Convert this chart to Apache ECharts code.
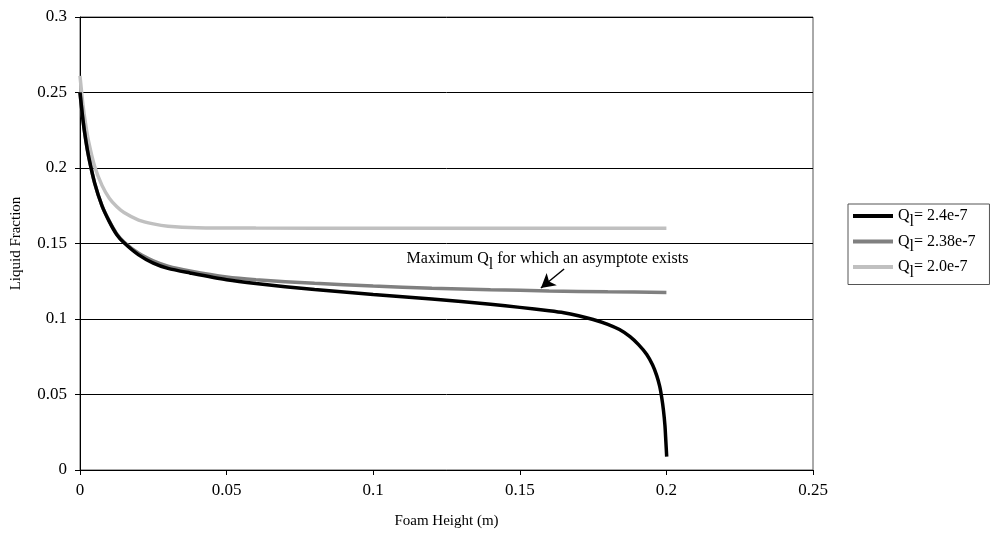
<!DOCTYPE html>
<html>
<head>
<meta charset="utf-8">
<script src="https://cdn.jsdelivr.net/npm/echarts@6/dist/echarts.min.js"></script>
<style>html,body{margin:0;padding:0;background:#fff}#c{width:991px;height:535px}</style>
</head>
<body>
<div id="c"></div>
<script>
var seriesNames = ['Q_l= 2.4e-7', 'Q_l= 2.38e-7', 'Q_l= 2.0e-7'];
var xTicks = [0, 0.05, 0.1, 0.15, 0.2, 0.25];
var yTicks = [0, 0.05, 0.1, 0.15, 0.2, 0.25, 0.3];

var x240 = [0, 0.001, 0.002, 0.003, 0.005, 0.0075, 0.01, 0.0125, 0.015, 0.02, 0.025, 0.03, 0.0375, 0.05, 0.06, 0.08, 0.1, 0.12, 0.14, 0.15, 0.16, 0.165, 0.17, 0.175, 0.18, 0.184, 0.1876, 0.1905, 0.1933, 0.1953, 0.1967, 0.1977, 0.1984, 0.199, 0.1995, 0.1998, 0.2001];
var y240 = [0.25, 0.232, 0.218, 0.207, 0.190, 0.175, 0.1645, 0.156, 0.1505, 0.1425, 0.137, 0.1335, 0.1305, 0.126, 0.1235, 0.1195, 0.1163, 0.1133, 0.1098, 0.1077, 0.1055, 0.1042, 0.1022, 0.0997, 0.0965, 0.0930, 0.0883, 0.0830, 0.0765, 0.0695, 0.0625, 0.0555, 0.0480, 0.0395, 0.0295, 0.0195, 0.0088];

var x238 = [0, 0.001, 0.002, 0.003, 0.005, 0.0075, 0.01, 0.0125, 0.015, 0.02, 0.025, 0.03, 0.0375, 0.05, 0.06, 0.08, 0.1, 0.12, 0.14, 0.16, 0.18, 0.2];
var y238 = [0.25, 0.232, 0.218, 0.207, 0.190, 0.175, 0.1648, 0.1565, 0.151, 0.1435, 0.1385, 0.135, 0.1318, 0.1278, 0.126, 0.1236, 0.1218, 0.1204, 0.1194, 0.1186, 0.118, 0.1176];

var x200 = [0, 0.001, 0.002, 0.003, 0.005, 0.0075, 0.01, 0.0125, 0.015, 0.02, 0.025, 0.03, 0.04, 0.06, 0.1, 0.15, 0.2];
var y200 = [0.261, 0.242, 0.228, 0.217, 0.201, 0.1885, 0.18, 0.1745, 0.1705, 0.1655, 0.163, 0.1615, 0.1605, 0.1602, 0.1601, 0.1601, 0.1601];

var arrowFrom = [0.1651, 0.1331];
var arrowTo = [0.1572, 0.1205];
var noteAt = [0.1114, 0.1485];

function zip(xs, ys) { return xs.map(function (x, i) { return [x, ys[i]]; }); }

var font = 'Liberation Serif';
var rich = {
  a: { fontFamily: font, fontSize: 16, color: '#000' },
  b: { fontFamily: font, fontSize: 16, color: '#000', padding: [11, 0, 0, 0] }
};
function qLabel(name) {
  var rest = name.replace('Q_l', '');
  return '{a|Q}{b|l}{a|' + rest + '}';
}

var chart = echarts.init(document.getElementById('c'));
var colors = ['#000000', '#808080', '#c0c0c0'];
chart.setOption({
  animation: false,
  backgroundColor: '#fff',
  grid: { left: 80, top: 17, right: 178, bottom: 65, show: true, borderColor: '#555', borderWidth: 1,
    containLabel: false, outerBoundsMode: 'none' },
  xAxis: {
    type: 'value', min: 0, max: 0.25, interval: 0.05,
    name: 'Foam Height (m)', nameLocation: 'middle', nameGap: 44,
    nameTextStyle: { fontFamily: font, fontSize: 15, color: '#000' },
    axisLine: { lineStyle: { color: '#000', width: 1 } },
    axisTick: { show: true, inside: false, length: 5, lineStyle: { color: '#000' } },
    axisLabel: { fontFamily: font, fontSize: 17, color: '#000', margin: 12,
      formatter: function (v) { return String(xTicks.filter(function (t) { return Math.abs(t - v) < 1e-9; })[0]); } },
    splitLine: { show: false }
  },
  yAxis: {
    type: 'value', min: 0, max: 0.3, interval: 0.05,
    name: 'Liquid Fraction', nameLocation: 'middle', nameGap: 56, nameRotate: 90,
    nameTextStyle: { fontFamily: font, fontSize: 15, color: '#000' },
    axisLine: { show: true, lineStyle: { color: '#000', width: 1 } },
    axisTick: { show: true, inside: false, length: 5, lineStyle: { color: '#000' } },
    axisLabel: { fontFamily: font, fontSize: 17, color: '#000', margin: 13,
      formatter: function (v) { return String(yTicks.filter(function (t) { return Math.abs(t - v) < 1e-9; })[0]); } },
    splitLine: { show: true, lineStyle: { color: '#000', width: 1 } }
  },
  legend: {
    orient: 'vertical', left: 848, top: 204,
    padding: [4, 14, 4, 5], itemGap: 4,
    borderColor: '#555', borderWidth: 1,
    icon: 'rect', itemWidth: 40, itemHeight: 4,
    formatter: qLabel,
    textStyle: { rich: rich, fontFamily: font, fontSize: 16 },
    data: seriesNames
  },
  series: [
    { name: seriesNames[0], type: 'line', data: zip(x240, y240), showSymbol: false, smooth: 0.25,
      lineStyle: { color: colors[0], width: 3.5 }, itemStyle: { color: colors[0] }, z: 5,
      markLine: {
        silent: true, symbol: ['none', 'arrow'], symbolSize: [12, 14],
        lineStyle: { color: '#000', width: 1.5, type: 'solid' }, label: { show: false },
        data: [[{ coord: arrowFrom }, { coord: arrowTo }]]
      }
    },
    { name: seriesNames[1], type: 'line', data: zip(x238, y238), showSymbol: false, smooth: 0.25,
      lineStyle: { color: colors[1], width: 3.5 }, itemStyle: { color: colors[1] }, z: 4 },
    { name: seriesNames[2], type: 'line', data: zip(x200, y200), showSymbol: false, smooth: 0.25,
      lineStyle: { color: colors[2], width: 3.5 }, itemStyle: { color: colors[2] }, z: 3 }
  ]
});

var tp = chart.convertToPixel({ gridIndex: 0 }, noteAt);
chart.setOption({
  graphic: [{
    type: 'text', x: tp[0], y: tp[1],
    style: { text: '{a|Maximum Q}{b|l}{a| for which an asymptote exists}', rich: rich }
  }]
});
</script>
</body>
</html>
